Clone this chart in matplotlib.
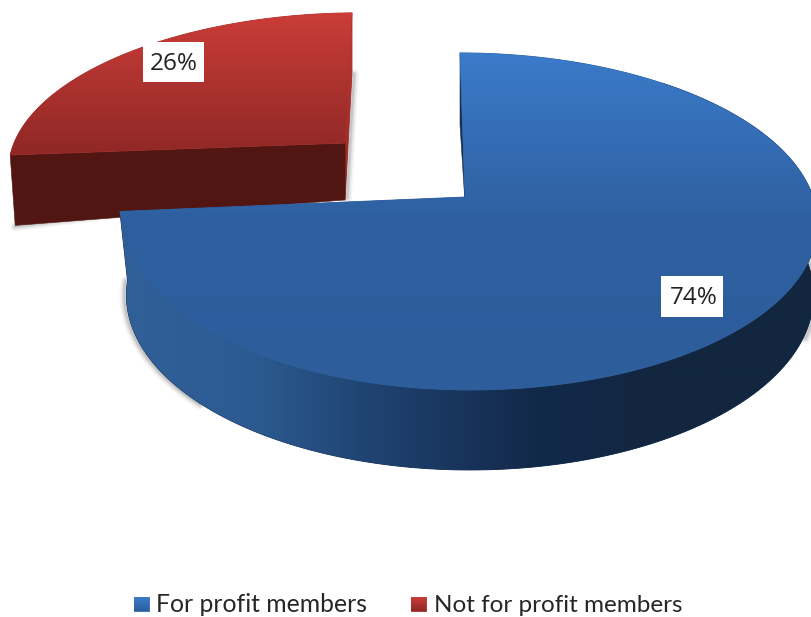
import numpy as np
import matplotlib
matplotlib.use("Agg")
import matplotlib.pyplot as plt
from matplotlib.patches import Polygon, Rectangle
from matplotlib.colors import LinearSegmentedColormap as LSC

categories = ["For profit members", "Not for profit members"]
shares = [74, 26]
labels = ["74%", "26%"]

W, H = 811, 617
fig = plt.figure(figsize=(W/100, H/100), dpi=100)
ax = fig.add_axes([0, 0, 1, 1])
ax.set_xlim(0, W); ax.set_ylim(H, 0); ax.axis("off")

K = 0.145
def arc(t0, t1, x0, y0, a, b, sh=0.0, ry=0.0, al=None, n=200):
    th = np.radians(np.linspace(t0, t1, n))
    u, v = np.sin(th), np.cos(th)
    d = 1 + K*v
    aa = np.where(u < 0, a if al is None else al, a)
    return np.c_[x0 + aa*u/d + sh*v, y0 - b*v/d + ry*u]

def grad(poly, cols, zorder, horizontal=False, ext=None):
    g = np.linspace(0, 1, 256)
    img = g[None, :] if horizontal else g[:, None]
    xy = np.asarray(poly)
    e = ext or (xy[:,0].min(), xy[:,0].max(), xy[:,1].max(), xy[:,1].min())
    cm = LSC.from_list("c", cols)
    # thin underlay hides the light seam left by the hard image clip
    ax.add_patch(Polygon(xy, closed=True, fc=cm(0.55), ec=cm(0.55), lw=0.6, zorder=zorder-0.1))
    im = ax.imshow(img, cmap=cm, extent=e, aspect="auto",
                   zorder=zorder, vmin=0, vmax=1, interpolation="bilinear")
    p = Polygon(xy, closed=True, transform=ax.transData, fc="none", ec="none")
    ax.add_patch(p); im.set_clip_path(p)
    ax.set_xlim(0, W); ax.set_ylim(H, 0)

def solid(poly, c, z):
    ax.add_patch(Polygon(poly, closed=True, fc=c, ec=c, lw=0.4, zorder=z))

def shadow(xy, z):
    for lw, al in ((7, .05), (5, .07), (3, .10), (1.5, .12)):
        ax.plot(xy[:,0], xy[:,1], color="#444444", lw=lw, alpha=al, zorder=z, solid_capstyle="round")

end = shares[0]/sum(shares)*360   # clockwise from 12 o'clock

# ---- red exploded slice (drawn first, blue overlaps it) ----
RT = dict(x0=345, y0=143, a=332, b=149, sh=7, ry=-2.5)
RB = dict(x0=345, y0=200, a=327, b=149, sh=7, ry=-16)
rt = np.r_[[ (RT['x0'], RT['y0']) ], arc(end, 360, **RT)]
apexT = np.array([RT['x0'], RT['y0']]); apexB = np.array([RB['x0'], RB['y0']])
left_t = arc(end, end, **RT, n=1)[0]; left_b = arc(end, end, **RB, n=1)[0]
top_t = arc(360, 360, **RT, n=1)[0]
mid_r = np.array([top_t[0], 72.0])
shadow(np.array([mid_r + [2, 2], apexB + [2, -2]]), 1)
shadow(np.array([left_b + [0, 1], apexB - [60, 7]]), 1)
grad([top_t, mid_r, apexB, apexT], ["#c43a35", "#8d2724"], 2)
solid([apexT, left_t, left_b, apexB], "#511612", 3)
grad(rt, ["#cb3d38", "#8f2826"], 4, ext=(0, W, rt[:,1].max(), rt[:,1].min()))

# ---- blue slice ----
BT = dict(x0=465, y0=197, a=348, al=338, b=165, sh=-5)
BB = dict(x0=470, y0=270, a=340, b=171, sh=0)
tip = arc(end, end, **BT, n=1)[0] + [-5.0, 4.0]   # cut corner of the slice
ta = arc(0, end - 10, **BT)
top = np.r_[[ (BT['x0'], BT['y0']) ], ta, [tip]]
tarc = arc(40, end - 10, **BT)
barc = arc(40, end, **BB)
side = np.r_[tarc, [tip], barc[::-1]]
shadow(arc(225, end, **BB) + [-2, 0], 5)
shadow(arc(70, 112, **BB) + [2, 1], 5)
# inner sliver behind the top edge
p0 = arc(0, 0, **BT, n=1)[0]
solid([p0, (p0[0], 125), (BT['x0'], BT['y0']+6), (BT['x0'], BT['y0'])], "#17304f", 6)
grad(side, ["#315f99", "#2c5a90", "#1d3f6b", "#13294a", "#12263f", "#12263f"], 7, horizontal=True,
     ext=(115, 811, 500, 200))
grad(top, ["#3b7bca", "#2e5f9f", "#2d5d9a"], 8, ext=(0, W, 400, 50))

# ---- value labels ----
ax.add_patch(Rectangle((661, 275.5), 62, 41.5, fc="white", ec="none", zorder=10))
ax.text(693.5, 297.5, labels[0], ha="center", va="center", fontsize=17.5, family="Open Sans", color="#222222", zorder=11)
ax.add_patch(Rectangle((143, 42), 61, 39.5, fc="white", ec="none", zorder=10))
ax.text(174, 63.5, labels[1], ha="center", va="center", fontsize=17.5, family="Open Sans", color="#222222", zorder=11)

# ---- legend ----
for x, name, cols, fs in ((134, categories[0], ["#3b7bca", "#2e5f9f"], 17.8), (411, categories[1], ["#cb3d38", "#8f2826"], 17.5)):
    box = [(x, 597), (x+15, 597), (x+15, 611), (x, 611)]
    grad(box, cols, 10)
    ax.text(x+22.5, 605, name, ha="left", va="center", fontsize=fs, family="Lato", color="#262626")

fig.savefig("out.png", dpi=100)
